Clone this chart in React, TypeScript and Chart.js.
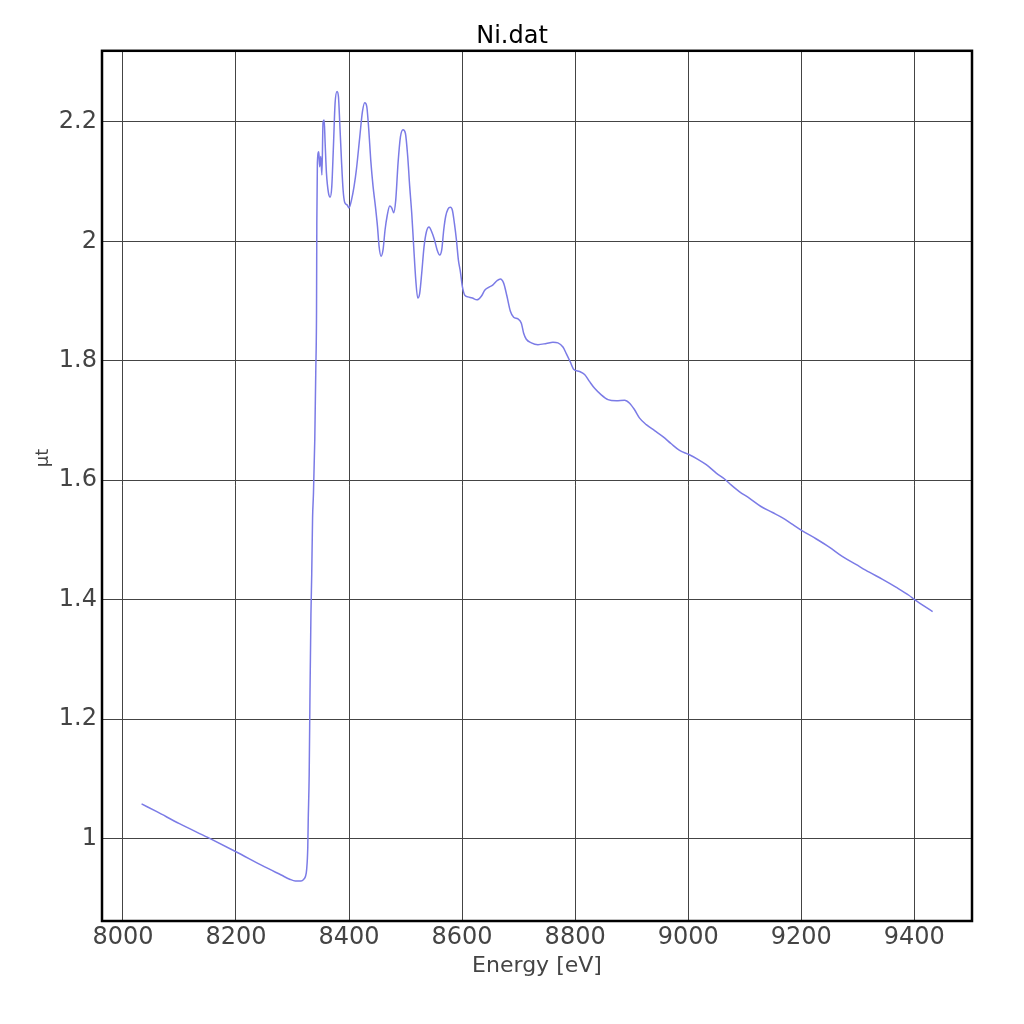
import React, { useEffect, useRef } from "react";
import { Chart, registerables } from "chart.js";

Chart.register(...registerables);

const energy: number[] = [
  8033, 8060, 8100, 8150, 8200, 8250, 8280, 8295, 8305, 8315, 8320, 8323, 8325, 8327, 8327.8,
  8329.5, 8331, 8332.6, 8334, 8335.5, 8337, 8339.4, 8341.2, 8342.5, 8343, 8344, 8346.5,
  8348, 8350, 8352, 8354, 8356, 8357.7, 8360, 8363.6, 8366.5, 8369.5, 8372.4, 8375.3,
  8378.8, 8381.3, 8383.6, 8386.6, 8389.5, 8392.4, 8396.5, 8400, 8404.3, 8408.9, 8413,
  8419, 8423.7, 8427.8, 8431.3, 8434.9, 8438.4, 8442.5, 8446.7, 8450.3, 8453.2, 8456.6,
  8460.2, 8463.7, 8467.3, 8472, 8475.5, 8479, 8482.6, 8486.7, 8490.9, 8495.5, 8499.7,
  8503.8, 8507.3, 8510.9, 8514.4, 8518, 8521.5, 8525, 8528.6, 8532.7, 8536.9, 8541.5,
  8546.2, 8551, 8555.7, 8560.4, 8564, 8567.5, 8571, 8575, 8579.3, 8582.8, 8586.4, 8589.9,
  8593.4, 8597, 8600.5, 8604.6, 8610.4, 8618.2, 8626.3, 8634, 8640, 8647, 8654.6, 8661.7,
  8667.7, 8673.5, 8679.4, 8685.4, 8691.2, 8698.9, 8704.8, 8708.9, 8713.6, 8722.5, 8734.2,
  8749, 8760.7, 8769.5, 8778.4, 8784.3, 8791.4, 8797.2, 8807.8, 8816.7, 8825.6, 8834.4,
  8846.2, 8858, 8872.8, 8887.5, 8896.3, 8905.1, 8914, 8925.8, 8940.5, 8955.2, 8970,
  8984.7, 9001.2, 9017.1, 9031.9, 9049.6, 9064.3, 9072.6, 9090.3, 9108, 9128.7, 9149.2,
  9166.9, 9184.6, 9200.5, 9226, 9249.5, 9273.1, 9296.7, 9320.3, 9343.8, 9367.4, 9390.9,
  9400.4, 9432.3,
];

const mut: number[] = [
  1.058, 1.045, 1.025, 1.002, 0.978, 0.953, 0.939, 0.932, 0.929, 0.929, 0.932, 0.937, 0.948, 0.985, 1.03,
  1.107, 1.249, 1.375, 1.442, 1.537, 1.576, 1.668, 1.785, 1.885, 2.028, 2.131, 2.15,
  2.125, 2.142, 2.111, 2.198, 2.203, 2.165, 2.115, 2.081, 2.074, 2.092, 2.159, 2.231,
  2.251, 2.242, 2.198, 2.136, 2.086, 2.065, 2.061, 2.056, 2.069, 2.092, 2.12,
  2.175, 2.217, 2.232, 2.226, 2.187, 2.136, 2.092, 2.058, 2.025, 1.991, 1.975,
  1.986, 2.019, 2.042, 2.059, 2.056, 2.048, 2.069, 2.131, 2.175, 2.187, 2.181,
  2.142, 2.092, 2.047, 1.991, 1.936, 1.905, 1.913, 1.947, 1.991, 2.016, 2.024,
  2.016, 2.003, 1.986, 1.977, 1.986, 2.019, 2.042, 2.054, 2.057, 2.052, 2.03, 2.003,
  1.969, 1.949, 1.924, 1.91, 1.907, 1.905, 1.902, 1.908, 1.918, 1.923, 1.927, 1.934,
  1.937, 1.93, 1.908, 1.883, 1.873, 1.87, 1.863, 1.846, 1.836, 1.83, 1.827,
  1.829, 1.831, 1.83, 1.823, 1.812, 1.798, 1.786, 1.782, 1.777, 1.765, 1.754,
  1.743, 1.735, 1.733, 1.734, 1.729, 1.718, 1.704, 1.693, 1.683, 1.673, 1.661,
  1.65, 1.643, 1.635, 1.626, 1.612, 1.602, 1.595, 1.581, 1.57, 1.556, 1.546,
  1.537, 1.526, 1.516, 1.502, 1.488, 1.472, 1.459, 1.446, 1.434, 1.421, 1.407,
  1.4, 1.38,
];

const xTicks: number[] = [8000, 8200, 8400, 8600, 8800, 9000, 9200, 9400];
const yTicks: number[] = [1.0, 1.2, 1.4, 1.6, 1.8, 2.0, 2.2];

const titleText = "Ni.dat";
const xTitle = "Energy [eV]";
const yTitle = "µt";

const FONT = "'DejaVu Sans', 'Noto Sans', sans-serif";

const framePlugin = {
  id: "frame",
  afterDraw(chart: any) {
    const { ctx, chartArea } = chart;
    ctx.save();
    ctx.strokeStyle = "#000";
    ctx.lineWidth = 2.5;
    ctx.strokeRect(chartArea.left, chartArea.top, chartArea.right - chartArea.left, chartArea.bottom - chartArea.top);
    // y axis title, placed where the reference has it
    ctx.fillStyle = "#444";
    ctx.font = `18px ${FONT}`;
    ctx.textAlign = "center";
    ctx.textBaseline = "middle";
    ctx.translate(43, 458);
    ctx.rotate(-Math.PI / 2);
    ctx.fillText(yTitle, 0, 0);
    ctx.restore();
  },
};

export default function App() {
  const ref = useRef<HTMLCanvasElement | null>(null);

  useEffect(() => {
    if (!ref.current) return;
    const chart = new Chart(ref.current, {
      type: "line",
      data: {
        datasets: [
          {
            label: titleText,
            data: energy.map((e, i) => ({ x: e, y: mut[i] })),
            borderColor: "#7b7be6",
            borderWidth: 1.5,
            pointRadius: 0,
            fill: false,
            cubicInterpolationMode: "monotone",
            xAxisID: "x",
            yAxisID: "y",
          },
        ],
      },
      options: {
        animation: false,
        responsive: false,
        devicePixelRatio: 1,
        layout: { padding: { left: 0, right: 0, top: 0, bottom: 45 } },
        plugins: {
          legend: { display: false },
          tooltip: { enabled: false },
          title: {
            display: true,
            text: titleText,
            color: "#000",
            font: { family: FONT, size: 24, weight: "normal" },
            padding: { top: 22, bottom: 0 },
          },
        },
        scales: {
          x: {
            type: "linear",
            min: 7963,
            max: 9502,
            afterBuildTicks: (axis: any) => {
              axis.ticks = xTicks.map((v) => ({ value: v }));
            },
            afterFit: (axis: any) => {
              axis.height = 58;
            },
            grid: { color: "#444", lineWidth: 1, drawTicks: false },
            border: { display: false },
            ticks: {
              color: "#444",
              font: { family: FONT, size: 24 },
              padding: 2,
              maxRotation: 0,
              autoSkip: false,
              callback: (v: any) => String(v),
            },
            title: {
              display: true,
              text: xTitle,
              color: "#444",
              font: { family: FONT, size: 22 },
              padding: { top: 0, bottom: 0 },
            },
          },
          y: {
            type: "linear",
            min: 0.862,
            max: 2.319,
            afterBuildTicks: (axis: any) => {
              axis.ticks = yTicks.map((v) => ({ value: v }));
            },
            afterFit: (axis: any) => {
              axis.width = 102;
            },
            grid: { color: "#444", lineWidth: 1, drawTicks: false },
            border: { display: false },
            ticks: {
              color: "#444",
              font: { family: FONT, size: 24 },
              padding: 5,
              autoSkip: false,
              callback: (v: any) => String(Number(Number(v).toFixed(1))),
            },
          },
          yRight: {
            type: "linear",
            position: "right",
            display: true,
            afterFit: (axis: any) => {
              axis.width = 52;
            },
            grid: { display: false, drawTicks: false },
            border: { display: false },
            ticks: { display: false },
          },
        },
      },
      plugins: [framePlugin],
    });
    return () => chart.destroy();
  }, []);

  return (
    <div style={{ position: "absolute", left: 0, top: 0, width: 1024, height: 1024, background: "#fff" }}>
      <canvas ref={ref} width={1024} height={1024} style={{ width: 1024, height: 1024 }} />
    </div>
  );
}
